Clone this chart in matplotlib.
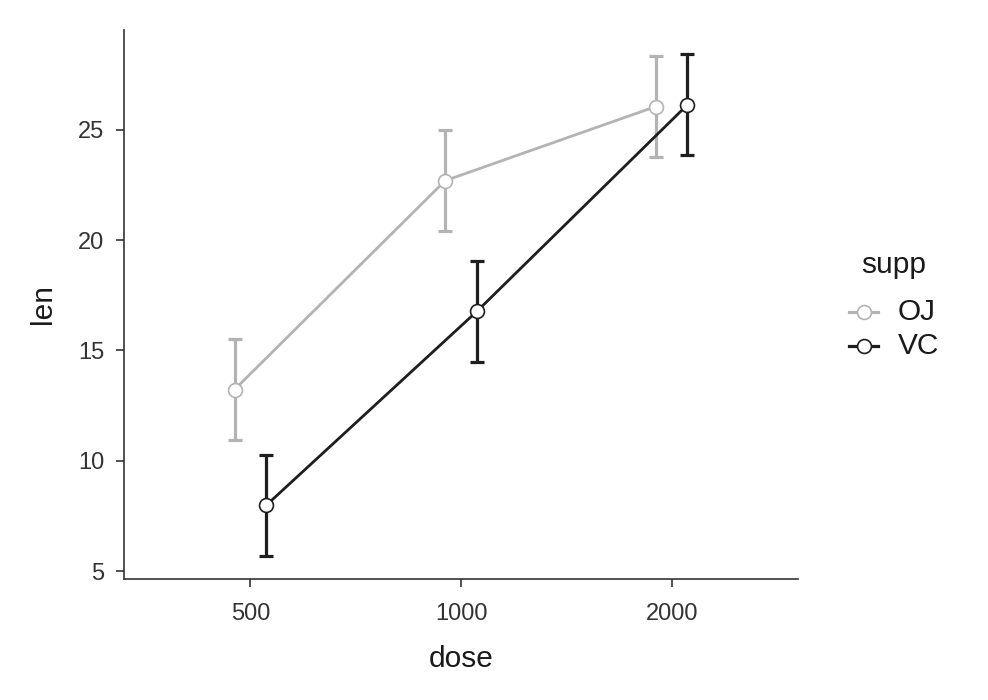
import matplotlib
matplotlib.use("Agg")
import matplotlib.pyplot as plt
import numpy as np
from matplotlib.lines import Line2D

plt.rcParams['font.family'] = ['Liberation Sans', 'DejaVu Sans']

doses = ["500", "1000", "2000"]
supps = ["OJ", "VC"]
oj_len = [13.23, 22.70, 26.06]
vc_len = [7.98, 16.77, 26.14]
oj_err = [2.29, 2.29, 2.29]
vc_err = [2.29, 2.29, 2.29]
colors = {"OJ": "#B3B3B3", "VC": "#1E1E1E"}

W, H = 988, 700
fig = plt.figure(figsize=(W/100, H/100), dpi=100)
ax = fig.add_axes([124/W, 1-579/H, (798-124)/W, (579-30)/H])

x = np.arange(1, len(doses)+1)
dodge = 0.075
for s, vals, errs, off in [("OJ", oj_len, oj_err, -dodge), ("VC", vc_len, vc_err, dodge)]:
    c = colors[s]
    ax.errorbar(x+off, vals, yerr=errs, fmt='none', ecolor=c, elinewidth=2.3,
                capsize=5, capthick=2.3, zorder=2)
    ax.plot(x+off, vals, '-', color=c, lw=2.0, zorder=3)
    ax.plot(x+off, vals, 'o', color=c, mfc='white', mec=c, ms=10, mew=1.2, zorder=4, ls='none')

# manual legend (figure pixel positions)
txtc = '#1A1A1A'
fs_title = 21.5
fig.text(861/W, 1-265/H, "supp", fontsize=fs_title, color=txtc, ha='left', va='center')
for i, s in enumerate(supps):
    yk = 312 + i*34
    c = colors[s]
    fig.add_artist(Line2D([849/W, 878/W], [1-yk/H, 1-yk/H], transform=fig.transFigure,
                          color=c, lw=2.3))
    fig.add_artist(Line2D([864/W], [1-yk/H], transform=fig.transFigure, marker='o',
                          mfc='white', mec=c, ms=10, mew=1.2, ls='none'))
    fig.text(898/W, 1-yk/H, s, fontsize=fs_title, color=txtc, ha='left', va='center')

ax.set_xlim(0.4, 3.6)
ax.set_ylim(4.64, 29.53)
ax.set_xticks(x)
ax.set_xticklabels(doses)
ax.set_yticks([5, 10, 15, 20, 25])
ax.set_xlabel("dose", fontsize=fs_title, color=txtc, labelpad=15)
ax.set_ylabel("len", fontsize=fs_title, color=txtc, labelpad=15)
ax.tick_params(axis='both', labelsize=17, labelcolor='#333333', color='#333333', length=6, width=1.2)
ax.tick_params(axis='x', pad=11)
ax.tick_params(axis='y', pad=8)
for sp in ['top', 'right']:
    ax.spines[sp].set_visible(False)
for sp in ['left', 'bottom']:
    ax.spines[sp].set_color('#333333')
    ax.spines[sp].set_linewidth(1.2)

fig.savefig("out.png", dpi=100)
